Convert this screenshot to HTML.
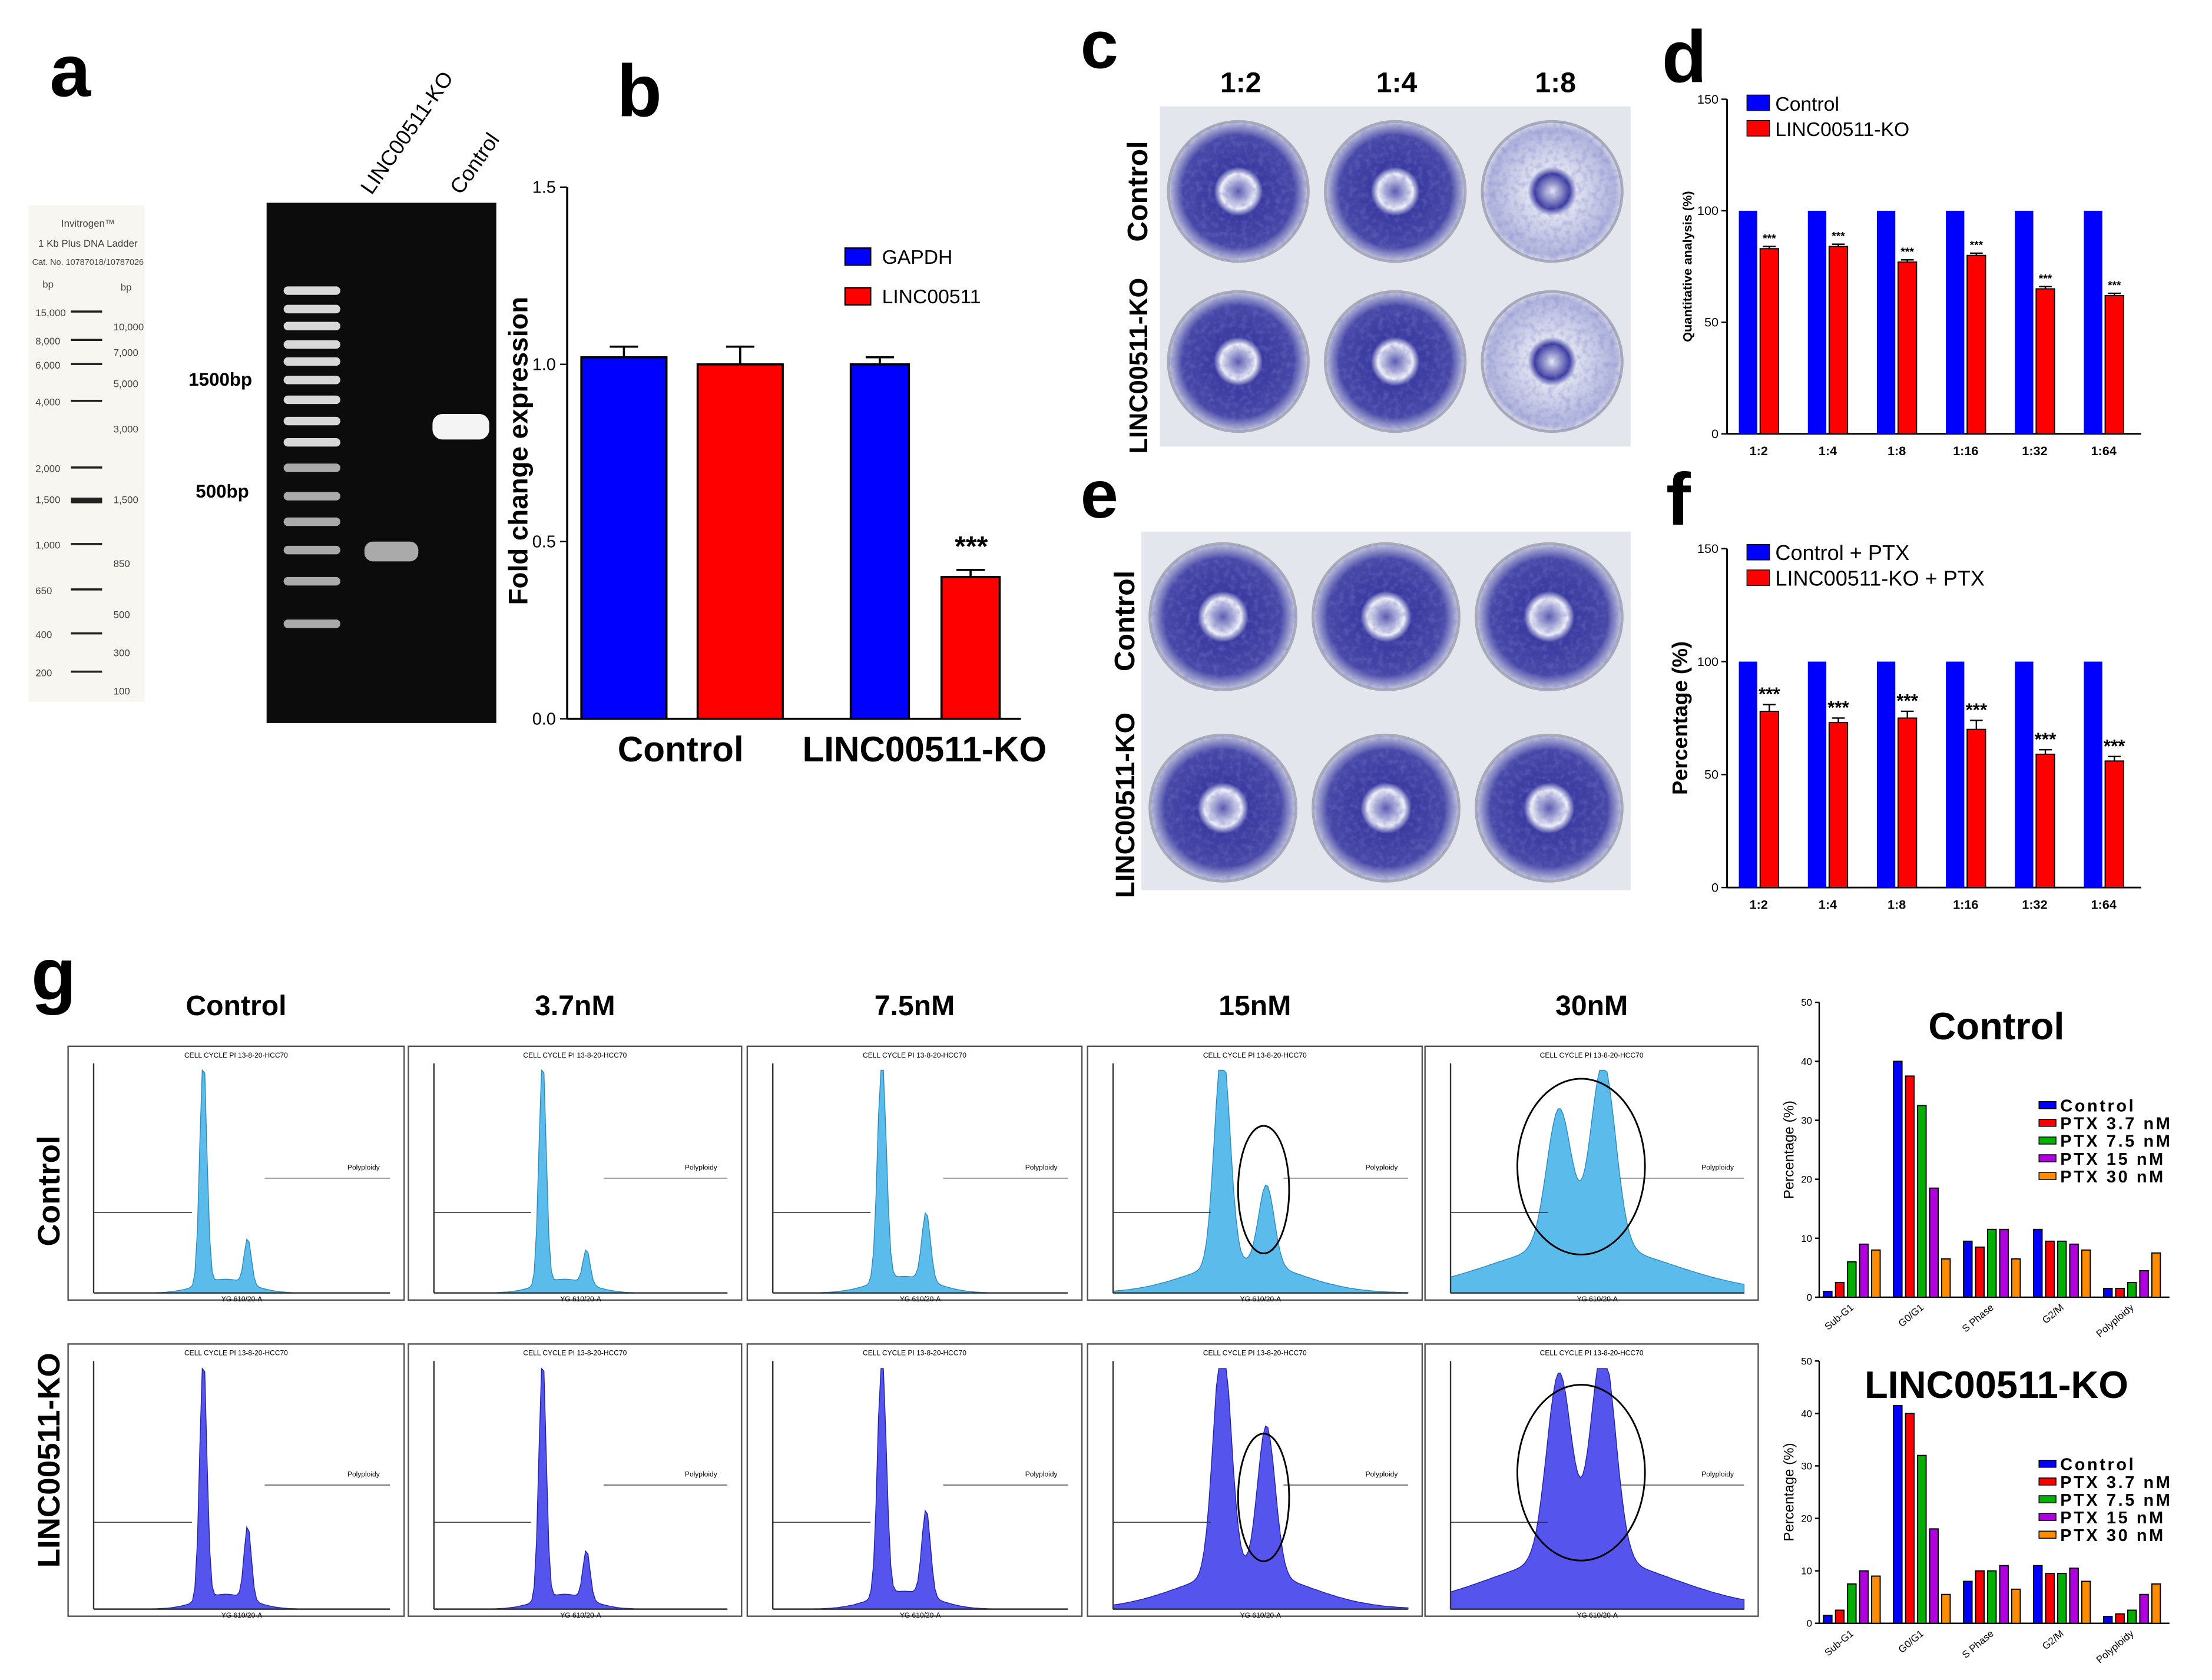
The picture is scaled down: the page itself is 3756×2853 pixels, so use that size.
<!DOCTYPE html>
<html><head><meta charset="utf-8"><style>
html,body{margin:0;padding:0;background:#fff}
svg{display:block;font-family:"Liberation Sans",Arial,sans-serif}
</style></head><body>
<svg id="fig" width="3756" height="2853" viewBox="0 0 1560 1185" xmlns="http://www.w3.org/2000/svg">
<defs>
<radialGradient id="dish" cx="50%" cy="50%" r="50%">
<stop offset="0" stop-color="#5a5ab0"/><stop offset="0.25" stop-color="#eef0f8"/><stop offset="0.35" stop-color="#3a3aa0"/><stop offset="0.8" stop-color="#4848a8"/><stop offset="1" stop-color="#c8cce0"/></radialGradient>
<radialGradient id="dishLight" cx="50%" cy="50%" r="50%">
<stop offset="0" stop-color="#e8eaf4"/><stop offset="0.25" stop-color="#3a3aa0"/><stop offset="0.35" stop-color="#dfe2f0"/><stop offset="0.9" stop-color="#b0b4dc"/><stop offset="1" stop-color="#d8dbe8"/></radialGradient>
<filter id="noise"><feTurbulence type="fractalNoise" baseFrequency="0.25" numOctaves="2" result="n"/><feColorMatrix in="n" type="matrix" values="0 0 0 0 0.2 0 0 0 0 0.2 0 0 0 0 0.6 0 0 0 1.2 -0.5"/><feComposite in2="SourceGraphic" operator="in"/></filter>
</defs>

<text x="35" y="68" font-size="52" font-weight="bold">a</text>
<g>
<rect x="20" y="145" width="82" height="350" fill="#f8f6f0"/>
<text x="62" y="160" font-size="7" text-anchor="middle" fill="#444">Invitrogen™</text>
<text x="62" y="174" font-size="7" text-anchor="middle" fill="#444">1 Kb Plus DNA Ladder</text>
<text x="62" y="187" font-size="6" text-anchor="middle" fill="#444">Cat. No. 10787018/10787026</text>
<text x="30" y="203" font-size="7" fill="#444">bp</text><text x="85" y="205" font-size="7" fill="#444">bp</text>
</g>
<g id="ladder"></g>
<rect x="188" y="143" width="162" height="367" fill="#0c0c0c"/>
<g id="gel"></g>
<text transform="translate(262,138) rotate(-55)" font-size="15">LINC00511-KO</text>
<text transform="translate(325,138) rotate(-55)" font-size="15">Control</text>
<text x="133" y="272" font-size="13" font-weight="bold">1500bp</text>
<text x="138" y="351" font-size="13" font-weight="bold">500bp</text>

<text x="435" y="82" font-size="52" font-weight="bold">b</text>
<g id="chartB"></g>

<text x="762" y="48" font-size="48" font-weight="bold">c</text>
<text x="875" y="65" font-size="20" font-weight="bold" text-anchor="middle">1:2</text>
<text x="985" y="65" font-size="20" font-weight="bold" text-anchor="middle">1:4</text>
<text x="1097" y="65" font-size="20" font-weight="bold" text-anchor="middle">1:8</text>
<text transform="translate(809,135) rotate(-90)" font-size="20" font-weight="bold" text-anchor="middle">Control</text>
<text transform="translate(809,258) rotate(-90)" font-size="18" font-weight="bold" text-anchor="middle">LINC00511-KO</text>
<g id="photoC"></g>

<text x="762" y="365" font-size="48" font-weight="bold">e</text>
<text transform="translate(800,438) rotate(-90)" font-size="20" font-weight="bold" text-anchor="middle">Control</text>
<text transform="translate(800,568) rotate(-90)" font-size="19" font-weight="bold" text-anchor="middle">LINC00511-KO</text>
<g id="photoE"></g>

<text x="1172" y="58" font-size="52" font-weight="bold">d</text>
<text x="1175" y="370" font-size="52" font-weight="bold">f</text>
<g id="chartD"></g>
<g id="chartF"></g>

<text x="22" y="705" font-size="52" font-weight="bold">g</text>
<text transform="translate(42,840) rotate(-90)" font-size="22" font-weight="bold" text-anchor="middle">Control</text>
<text transform="translate(42,1030) rotate(-90)" font-size="22" font-weight="bold" text-anchor="middle">LINC00511-KO</text>
<g id="flow"></g>
<g id="chartG1"></g>
<g id="chartG2"></g>
</svg>
<script>
const NS="http://www.w3.org/2000/svg";
function mk(parent,tag,attrs,text){const e=document.createElementNS(NS,tag);for(const k in attrs)e.setAttribute(k,attrs[k]);if(text!==undefined)e.textContent=text;parent.appendChild(e);return e;}

const bGroups=["Control","LINC00511-KO"];
const bSeries=["GAPDH","LINC00511"];
const bGapdh=[1.02,1.0];
const bLinc=[1.0,0.4];
const bErrG=[0.03,0.02];
const bErrL=[0.05,0.02];
const bTicks=[0.0,0.5,1.0,1.5];

const dfCats=["1:2","1:4","1:8","1:16","1:32","1:64"];
const dControl=[100,100,100,100,100,100];
const dKO=[83,84,77,80,65,62];
const fControl=[100,100,100,100,100,100];
const fKO=[78,73,75,70,59,56];
const fErr=[3,2,3,4,2,2];
const dfTicks=[0,50,100,150];

const gCats=["Sub-G1","G0/G1","S Phase","G2/M","Polyploidy"];
const gSeriesNames=["Control","PTX 3.7 nM","PTX 7.5 nM","PTX 15 nM","PTX 30 nM"];
const gCtrl_Control=[1,40,9.5,11.5,1.5];
const gCtrl_P37=[2.5,37.5,8.5,9.5,1.5];
const gCtrl_P75=[6,32.5,11.5,9.5,2.5];
const gCtrl_P15=[9,18.5,11.5,9,4.5];
const gCtrl_P30=[8,6.5,6.5,8,7.5];
const gKO_Control=[1.5,41.5,8,11,1.3];
const gKO_P37=[2.5,40,10,9.5,1.8];
const gKO_P75=[7.5,32,10,9.5,2.5];
const gKO_P15=[10,18,11,10.5,5.5];
const gKO_P30=[9,5.5,6.5,8,7.5];
const gTicks=[0,10,20,30,40,50];
const gColors=["#0000ff","#ff0000","#00b000","#b000e0","#ff8c00"];

const flowTitles=["Control","3.7nM","7.5nM","15nM","30nM"];
const flowG1Ctrl=[1.0,1.0,1.0,0.95,0.6];
const flowG2Ctrl=[0.2,0.15,0.3,0.35,0.8];
const flowSpreadCtrl=[1,1,1.2,2.2,3.5];
const flowG1KO=[1.0,1.0,1.0,0.95,0.75];
const flowG2KO=[0.3,0.2,0.35,0.6,0.85];
const flowSpreadKO=[1,1,1.2,2.5,3.5];

const ladderL=[[15000,220],[8000,240],[6000,257],[4000,283],[2000,330],[1500,352],[1000,384],[650,416],[400,447],[200,474]];
const ladderR=[[10000,230],[7000,248],[5000,270],[3000,302],[1500,352],[850,397],[500,433],[300,460],[100,487]];
(function(){const g=document.getElementById('ladder');
ladderL.forEach(([v,y])=>{const t=mk(g,'text',{x:25,y:y+3,'font-size':7,fill:'#444'},v.toLocaleString('en-US'));
const r=mk(g,'rect',{x:50,y:y-1,width:22,height:v===1500?4:1.5,fill:'#222'});});
ladderR.forEach(([v,y])=>{const t=mk(g,'text',{x:80,y:y+3,'font-size':7,fill:'#444'},v.toLocaleString('en-US'));});
const gg=document.getElementById('gel');
const bands=[205,218,230,243,255,268,282,297,312,330,350,368,388,410,440];
bands.forEach((y,i)=>{const r=mk(gg,'rect',{x:200,y:y-3,width:40,height:6,rx:3,fill:i<9?'#d8d8d8':'#aaa'});});
let r=mk(gg,'rect',{x:257,y:382,width:38,height:14,rx:6,fill:'#aaa'});
r=mk(gg,'rect',{x:305,y:292,width:40,height:18,rx:7,fill:'#f4f4f4'});
})();

(function(){const g=document.getElementById('chartB');
const x0=400,yTop=132,yBot=507;const y=v=>yBot-(v/1.5)*(yBot-yTop);
let a=mk(g,'line',{x1:x0,y1:yTop,x2:x0,y2:yBot,stroke:'#000','stroke-width':1.5});
a=mk(g,'line',{x1:x0,y1:yBot,x2:720,y2:yBot,stroke:'#000','stroke-width':1.5});
bTicks.forEach(t=>{mk(g,'line',{x1:x0-5,y1:y(t),x2:x0,y2:y(t),stroke:'#000'});const tx=mk(g,'text',{x:x0-8,y:y(t)+4,'font-size':12,'text-anchor':'end'},t.toFixed(1));});
const gx=[410,600];
bGroups.forEach((name,i)=>{
 [[bGapdh,bErrG,'#0000ff',0],[bLinc,bErrL,'#ff0000',1]].forEach(([vals,err,c,k])=>{
  const bx=gx[i]+k*(i===0?82:64),w=i===0?60:41;
  const b=mk(g,'rect',{x:bx,y:y(vals[i]),width:w,height:yBot-y(vals[i]),fill:c,stroke:'#000','stroke-width':1.5});
  
  mk(g,'line',{x1:bx+w/2,y1:y(vals[i]),x2:bx+w/2,y2:y(vals[i]+err[i]),stroke:'#000','stroke-width':1.5});
  mk(g,'line',{x1:bx+w/2-10,y1:y(vals[i]+err[i]),x2:bx+w/2+10,y2:y(vals[i]+err[i]),stroke:'#000','stroke-width':1.5});
 });
 const xl=mk(g,'text',{x:i===0?480:652,y:537,'font-size':25,'font-weight':'bold','text-anchor':'middle'},name);
});
let s=mk(g,'text',{x:685,y:392,'font-size':20,'font-weight':'bold','text-anchor':'middle'},'***');
s=mk(g,'text',{transform:'translate(372,318) rotate(-90)','font-size':19,'font-weight':'bold','text-anchor':'middle'},'Fold change expression');
bSeries.forEach((n,k)=>{const yy=175+k*28;mk(g,'rect',{x:596,y:yy,width:18,height:12,fill:k?'#ff0000':'#0000ff',stroke:'#000'});
const t=mk(g,'text',{x:622,y:yy+11,'font-size':14},n);});
})();

function dishes(gid,x0,y0,w,h,rows,light,name){const g=document.getElementById(gid);
 const bg=mk(g,'rect',{x:x0,y:y0,width:w,height:h,fill:'#e4e6ee'});
 for(let r=0;r<rows.length;r++)for(let c=0;c<3;c++){const cx=x0+w*(c+0.5)/3,cy=rows[r];const rad=Math.min(w/6,h/4)-6;
  const d=mk(g,'circle',{cx:cx,cy:cy,r:rad,fill:light[r][c]?'url(#dishLight)':'url(#dish)',stroke:'#aab','stroke-width':2});
  
  mk(g,'circle',{cx:cx,cy:cy,r:rad,fill:'#fff',filter:'url(#noise)',opacity:0.7});}}
dishes('photoC',818,75,332,240,[135,255],[[0,0,1],[0,0,1]],'colony-photo-c');
dishes('photoE',805,375,345,253,[435,570],[[0,0,0],[0,0,0]],'colony-photo-e');

function smallBar(gid,yTop,yBot,ctrl,ko,err,legend,ylab,big){const g=document.getElementById(gid);
 const x0=1218,x1=1510;const y=v=>yBot-(v/150)*(yBot-yTop);
 let a=mk(g,'line',{x1:x0,y1:yTop,x2:x0,y2:yBot,stroke:'#000','stroke-width':1.2});
 a=mk(g,'line',{x1:x0,y1:yBot,x2:x1,y2:yBot,stroke:'#000','stroke-width':1.2});
 dfTicks.forEach(t=>{mk(g,'line',{x1:x0-4,y1:y(t),x2:x0,y2:y(t),stroke:'#000'});const tx=mk(g,'text',{x:x0-6,y:y(t)+3,'font-size':9,'text-anchor':'end'},t);});
 const step=(x1-x0)/dfCats.length;
 dfCats.forEach((c,i)=>{const cx=x0+step*(i+0.5)-2;
  const b1=mk(g,'rect',{x:cx-14,y:y(ctrl[i]),width:13,height:yBot-y(ctrl[i]),fill:'#0000ff'});
  const b2=mk(g,'rect',{x:cx+1,y:y(ko[i]),width:13,height:yBot-y(ko[i]),fill:'#ff0000',stroke:'#000','stroke-width':0.8});
  const e=err?err[i]:1;mk(g,'line',{x1:cx+7.5,y1:y(ko[i]),x2:cx+7.5,y2:y(ko[i]+e),stroke:'#000'});mk(g,'line',{x1:cx+3,y1:y(ko[i]+e),x2:cx+12,y2:y(ko[i]+e),stroke:'#000'});
  const st=mk(g,'text',{x:cx+7.5,y:y(ko[i]+e)-3,'font-size':big?13:8,'font-weight':'bold','text-anchor':'middle'},'***');
  const xl=mk(g,'text',{x:cx,y:yBot+15,'font-size':9,'font-weight':'bold','text-anchor':'middle'},c);});
 legend.forEach((n,k)=>{const yy=yTop-3+k*18;mk(g,'rect',{x:1232,y:yy,width:16,height:11,fill:k?'#ff0000':'#0000ff',stroke:'#000','stroke-width':0.5});
  const t=mk(g,'text',{x:1252,y:yy+11,'font-size':big?15:14},n);});
 const yt=mk(g,'text',{transform:`translate(${big?1190:1193},${(yTop+yBot)/2}) rotate(-90)`,'font-size':big?15:9,'font-weight':'bold','text-anchor':'middle'},ylab);}
smallBar('chartD',70,306,dControl,dKO,null,['Control','LINC00511-KO'],'Quantitative analysis (%)',false);
smallBar('chartF',387,626,fControl,fKO,fErr,['Control + PTX','LINC00511-KO + PTX'],'Percentage (%)',true);

(function(){const g=document.getElementById('flow');
 const cols=[[48,285],[288,523],[527,763],[767,1003],[1005,1240]];
 const rows=[[738,917,'#5bbcec',flowG1Ctrl,flowG2Ctrl,flowSpreadCtrl],[948,1140,'#5555ee',flowG1KO,flowG2KO,flowSpreadKO]];
 flowTitles.forEach((t,i)=>{const tx=mk(g,'text',{x:(cols[i][0]+cols[i][1])/2,y:716,'font-size':20,'font-weight':'bold','text-anchor':'middle'},t);});
 rows.forEach(([y0,y1,col,g1,g2,sp],ri)=>cols.forEach(([x0,x1],i)=>{
  const fr=mk(g,'rect',{x:x0,y:y0,width:x1-x0,height:y1-y0,fill:'#fff',stroke:'#555','stroke-width':1});
  const px0=x0+18,px1=x1-10,pb=y1-5,pt=y0+12;const W=px1-px0,H=pb-pt;
  const gp=px0+W*0.37,g2p=px0+W*0.52;let d=`M${px0},${pb}`;
  for(let k=0;k<=120;k++){const xx=px0+W*k/120;const s=sp[i];
   let v=g1[i]*Math.exp(-Math.pow((xx-gp)/(3.5*s),2))+g2[i]*Math.exp(-Math.pow((xx-g2p)/(3.5*s),2))+0.06*s*Math.exp(-Math.pow((xx-(gp+g2p)/2)/(25*s),2));
   v=Math.min(v,0.97);d+=` L${xx.toFixed(1)},${(pb-v*H).toFixed(1)}`;}
  d+=` L${px1},${pb} Z`;const p=mk(g,'path',{d:d,fill:col,stroke:ri?'#2222aa':'#2a8cc0','stroke-width':0.6});
  mk(g,'line',{x1:px0,y1:pt,x2:px0,y2:pb,stroke:'#333'});mk(g,'line',{x1:px0,y1:pb,x2:px1,y2:pb,stroke:'#333'});
  mk(g,'line',{x1:px0,y1:pt+H*0.65,x2:gp-8,y2:pt+H*0.65,stroke:'#333','stroke-width':0.6});
  mk(g,'line',{x1:g2p+12,y1:pt+H*0.5,x2:px1,y2:pt+H*0.5,stroke:'#333','stroke-width':0.6});
  mk(g,'text',{x:(x0+x1)/2,y:y0+8,'font-size':5,'text-anchor':'middle'},'CELL CYCLE PI 13-8-20-HCC70');
  mk(g,'text',{x:px1-30,y:pt+H*0.5-6,'font-size':5},'Polyploidy');
  mk(g,'text',{x:(px0+px1)/2,y:y1+1,'font-size':5,'text-anchor':'middle'},'YG 610/20-A');
  if(i>=3){const e=mk(g,'ellipse',{cx:i===3?g2p-2:(gp+g2p)/2,cy:i===3?pt+H*0.55:pt+H*0.45,rx:i===3?18:45,ry:i===3?45:62,fill:'none',stroke:'#000','stroke-width':1.2});}
 }));})();

function gChart(gid,yTop,yBot,series,title){const g=document.getElementById(gid);
 const x0=1283,x1=1530;const y=v=>yBot-(v/50)*(yBot-yTop);
 let a=mk(g,'line',{x1:x0,y1:yTop,x2:x0,y2:yBot,stroke:'#000'});
 a=mk(g,'line',{x1:x0,y1:yBot,x2:x1,y2:yBot,stroke:'#000'});
 gTicks.forEach(t=>{mk(g,'line',{x1:x0-3,y1:y(t),x2:x0,y2:y(t),stroke:'#000'});const tx=mk(g,'text',{x:x0-5,y:y(t)+2.5,'font-size':7,'text-anchor':'end'},t);});
 const step=(x1-x0)/gCats.length;
 gCats.forEach((c,i)=>{series.forEach((vals,k)=>{const bx=x0+step*i+3+k*8.5;
  const b=mk(g,'rect',{x:bx,y:y(vals[i]),width:6,height:yBot-y(vals[i]),fill:gColors[k],stroke:'#000','stroke-width':0.8});});
  const xl=mk(g,'text',{transform:`translate(${x0+step*(i+0.5)},${yBot+8}) rotate(-40)`,'font-size':7,'text-anchor':'end'},c);});
 const tt=mk(g,'text',{x:1408,y:yTop+26,'font-size':27,'font-weight':'bold','text-anchor':'middle'},title);
 const yl=mk(g,'text',{transform:`translate(1265,${(yTop+yBot)/2}) rotate(-90)`,'font-size':10,'text-anchor':'middle'},'Percentage (%)');
 gSeriesNames.forEach((n,k)=>{const yy=yTop+70+k*12.5;mk(g,'rect',{x:1438,y:yy,width:12,height:5,fill:gColors[k],stroke:'#000','stroke-width':0.6});
  const t=mk(g,'text',{x:1453,y:yy+7,'font-size':12,'font-weight':'bold','letter-spacing':'1.5'},n);});}
gChart('chartG1',707,915,[gCtrl_Control,gCtrl_P37,gCtrl_P75,gCtrl_P15,gCtrl_P30],'Control');
gChart('chartG2',960,1145,[gKO_Control,gKO_P37,gKO_P75,gKO_P15,gKO_P30],'LINC00511-KO');
</script>
</body></html>
